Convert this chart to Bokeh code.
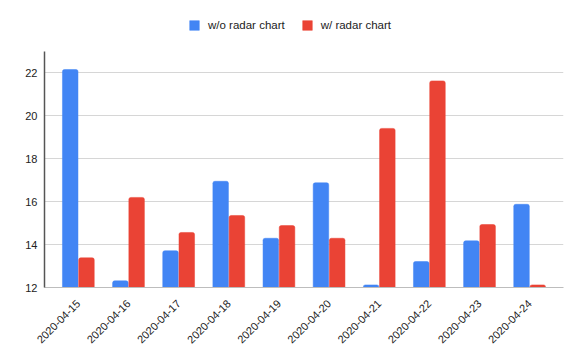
from math import pi
from bokeh.plotting import figure
from bokeh.models import ColumnDataSource, FactorRange, Range1d, FixedTicker, Legend, LegendItem
from bokeh.transform import dodge
from bokeh.embed import file_html
from bokeh.resources import INLINE

dates = ["2020-04-15", "2020-04-16", "2020-04-17", "2020-04-18", "2020-04-19",
         "2020-04-20", "2020-04-21", "2020-04-22", "2020-04-23", "2020-04-24"]
without_radar = [22.14, 12.31, 13.71, 16.94, 14.29, 16.87, 12.12, 13.21, 14.17, 15.87]
with_radar = [13.38, 16.19, 14.56, 15.35, 14.88, 14.29, 19.40, 21.61, 14.93, 12.12]
y_ticks = [12, 14, 16, 18, 20, 22]
series_names = ["w/o radar chart", "w/ radar chart"]
colors = ["#4285F4", "#EA4335"]

source = ColumnDataSource(data=dict(dates=dates, wo=without_radar, w=with_radar))

FONT = "Liberation Sans"

# frame spans full height above the x-axis; the y axis line is bounded to 12..23
p = figure(width=581, height=360, output_backend="svg", toolbar_location=None,
           x_range=FactorRange(factors=dates, range_padding=0.035),
           y_range=Range1d(12, 12 + 287 / 21.5),
           min_border_left=44, min_border_right=18, min_border_top=0, min_border_bottom=73)

r1 = p.vbar(x=dodge("dates", -0.162, range=p.x_range), top="wo", bottom=12, width=0.31,
            source=source, fill_color=colors[0], line_color=colors[0], line_width=0.5,
            border_radius=(2, 2, 0, 0))
r2 = p.vbar(x=dodge("dates", 0.162, range=p.x_range), top="w", bottom=12, width=0.31,
            source=source, fill_color=colors[1], line_color=colors[1], line_width=0.5,
            border_radius=(2, 2, 0, 0))

p.outline_line_color = None
p.background_fill_color = "white"
p.border_fill_color = "white"

p.xgrid.grid_line_color = None
p.ygrid.grid_line_color = "#d6d6d6"
p.ygrid.grid_line_width = 1
p.yaxis.ticker = FixedTicker(ticks=y_ticks)
p.yaxis.bounds = (12, 23)

for ax in (p.xaxis[0], p.yaxis[0]):
    ax.major_tick_line_color = None
    ax.minor_tick_line_color = None
    ax.major_tick_out = 0
    ax.major_tick_in = 0
    ax.major_label_text_font = FONT
    ax.major_label_text_font_size = "11px"
    ax.major_label_text_color = "#222222"

p.yaxis.axis_line_color = "#555555"
p.yaxis.axis_line_width = 1.5
p.yaxis.major_label_standoff = 7
p.xaxis.axis_line_color = "#bdbdbd"
p.xaxis.axis_line_width = 1
p.xaxis.major_label_orientation = pi / 4
p.xaxis.major_label_standoff = 14

legend = Legend(items=[LegendItem(label=series_names[0], renderers=[r1]),
                       LegendItem(label=series_names[1], renderers=[r2])],
                location=(144, 256), orientation="horizontal",
                padding=0, margin=0, spacing=16, label_standoff=8,
                glyph_width=12, glyph_height=12, label_height=12,
                label_text_font=FONT, label_text_font_size="11.5px",
                label_text_color="#222222",
                border_line_color=None, background_fill_alpha=0)
p.add_layout(legend, "center")

open("out.html", "w").write(file_html(p, INLINE))
